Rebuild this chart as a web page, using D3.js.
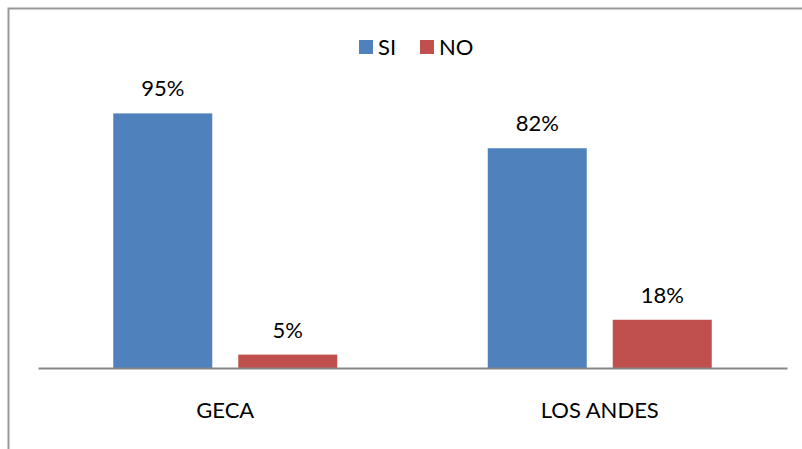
<!DOCTYPE html>
<html>
<head>
<meta charset="utf-8">
<script src="https://cdn.jsdelivr.net/npm/d3@7"></script>
<style>
  body { margin: 0; background: #fff; }
  text { font-family: Lato, "Open Sans", sans-serif; fill: #000; }
</style>
</head>
<body>
<div id="chart"></div>
<script>
// data
var categories = ["GECA", "LOS ANDES"];
var seriesNames = ["SI", "NO"];
var siValues = [0.95, 0.82];
var noValues = [0.05, 0.18];
var colors = ["#4F81BD", "#C0504D"];

var W = 802, H = 449;
var margin = {top: 100, right: 15, bottom: 81, left: 38};
var width = W - margin.left - margin.right,
    height = H - margin.top - margin.bottom;

var svg = d3.select("#chart").append("svg")
    .attr("width", W).attr("height", H);

// outer border (runs off the right / bottom edge)
svg.append("rect")
    .attr("x", 8.5).attr("y", 8.5)
    .attr("width", W).attr("height", H)
    .attr("fill", "none").attr("stroke", "#999").attr("stroke-width", 2);

var g = svg.append("g").attr("transform", "translate(" + margin.left + "," + margin.top + ")");

var x0 = d3.scaleBand().domain(categories).range([0, width]);
var x1 = d3.scaleBand().domain(seriesNames).range([0, 224]).paddingInner(26 / 125);
var y = d3.scaleLinear().domain([0, 1]).range([height, 0]);

var rows = categories.map(function(c, i) {
  return {cat: c, vals: [{s: "SI", v: siValues[i]}, {s: "NO", v: noValues[i]}]};
});

var grp = g.selectAll(".cat").data(rows).enter().append("g")
    .attr("transform", function(d) { return "translate(" + (x0(d.cat) + x0.bandwidth() / 2 - 112) + ",0)"; });

grp.selectAll("rect").data(function(d) { return d.vals; }).enter().append("rect")
    .attr("x", function(d) { return x1(d.s); })
    .attr("width", x1.bandwidth())
    .attr("y", function(d) { return y(d.v); })
    .attr("height", function(d) { return height - y(d.v); })
    .attr("fill", function(d, i) { return colors[i]; });

grp.selectAll(".lbl").data(function(d) { return d.vals; }).enter().append("text")
    .attr("class", "lbl")
    .attr("x", function(d) { return x1(d.s) + x1.bandwidth() / 2; })
    .attr("y", function(d) { return y(d.v) - 17; })
    .attr("text-anchor", "middle")
    .attr("font-size", 22)
    .text(function(d) { return Math.round(d.v * 100) + "%"; });

// x axis
var xAxis = d3.axisBottom(x0).tickSize(0).tickPadding(34);
var gX = g.append("g").attr("transform", "translate(0," + height + ")").call(xAxis);
gX.select(".domain").attr("stroke", "#868686").attr("stroke-width", 2);
gX.selectAll(".tick text").attr("font-size", 22).attr("font-family", "Lato, 'Open Sans', sans-serif").attr("fill", "#000");

// legend
var legend = svg.append("g").attr("transform", "translate(359,40)");
var leg = legend.selectAll("g").data(seriesNames).enter().append("g")
    .attr("transform", function(d, i) { return "translate(" + (i * 61) + ",0)"; });
leg.append("rect").attr("width", 14).attr("height", 14)
    .attr("fill", function(d, i) { return colors[i]; });
leg.append("text").attr("x", 19).attr("y", 15).attr("font-size", 22).text(function(d) { return d; });
</script>
</body>
</html>
